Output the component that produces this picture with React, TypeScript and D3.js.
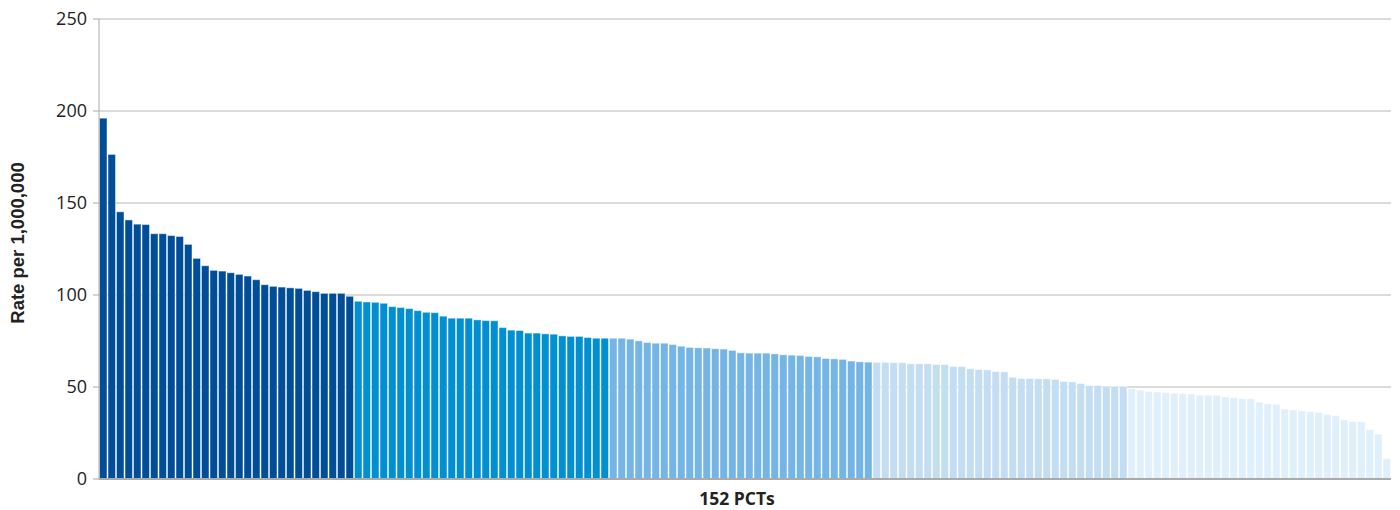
import React from 'react';
import * as d3 from 'd3';

// Rates per 1,000,000 for 152 PCTs, sorted descending, split into quintile groups
const group1 = [
  196.1, 176.4, 145.2, 140.8, 138.5, 138.3, 133.3, 133.3, 132.3, 131.8,
  127.5, 119.9, 115.9, 113.4, 113.0, 112.1, 111.2, 110.3, 108.3, 105.6,
  104.7, 104.3, 103.9, 103.6, 102.5, 101.8, 100.9, 100.9, 100.9, 99.3,
];
const group2 = [
  96.6, 96.2, 96.0, 95.5, 93.7, 93.2, 92.6, 91.5, 90.6, 90.4,
  88.5, 87.4, 87.4, 87.4, 86.5, 86.1, 86.0, 82.3, 80.9, 80.7,
  79.3, 79.3, 78.9, 78.7, 77.8, 77.5, 77.5, 76.9, 76.5, 76.5,
];
const group3 = [
  76.5, 76.5, 76.0, 75.1, 74.2, 73.8, 73.8, 73.1, 72.2, 71.5,
  71.3, 71.2, 70.8, 70.6, 69.9, 68.6, 68.4, 68.4, 68.4, 68.0,
  67.5, 67.3, 67.1, 66.6, 66.4, 65.5, 65.3, 65.0, 64.1, 63.7, 63.5,
];
const group4 = [
  63.4, 63.4, 63.2, 63.2, 62.6, 62.6, 62.6, 62.2, 62.2, 61.1,
  61.1, 59.9, 59.5, 59.3, 58.4, 58.2, 55.3, 54.6, 54.6, 54.4,
  54.4, 54.1, 53.0, 52.8, 51.9, 50.8, 50.8, 50.4, 50.3, 50.3,
];
const group5 = [
  49.1, 48.2, 47.6, 47.3, 47.0, 46.6, 46.4, 46.2, 45.6, 45.5,
  45.5, 44.6, 44.2, 43.6, 43.6, 41.8, 40.9, 40.5, 38.0, 37.6,
  37.1, 36.6, 36.2, 35.1, 34.5, 32.2, 31.3, 31.1, 26.9, 24.4, 11.0,
];
const groupColors = ['#004e98', '#0090d2', '#75b5e5', '#c3ddf3', '#dff0fc'];
const yTicks = [0, 50, 100, 150, 200, 250];
const xLabel = '152 PCTs';
const yLabel = 'Rate per 1,000,000';

const bars = [group1, group2, group3, group4, group5].flatMap((g, gi) =>
  g.map(v => ({ value: v, group: gi }))
).map((d, i) => ({ ...d, idx: i }));

export default function App() {
  const width = 1400;
  const height = 510;
  const margin = { top: 19, right: 9, bottom: 31, left: 99 };

  const x = d3
    .scaleBand<number>()
    .domain(bars.map(d => d.idx))
    .range([margin.left, width - margin.right])
    .padding(0);

  const y = d3
    .scaleLinear()
    .domain([0, 250])
    .range([height - margin.bottom, margin.top]);

  const font = '"Open Sans", "Noto Sans", sans-serif';
  const bw = x.bandwidth();

  return (
    <svg
      width={width}
      height={height}
      style={{ position: 'absolute', left: 0, top: 0, background: '#fff' }}
      fontFamily={font}
    >
      {/* Gridlines */}
      {yTicks.filter(t => t > 0).map(t => (
        <line
          key={t}
          x1={margin.left}
          x2={width - margin.right}
          y1={y(t)}
          y2={y(t)}
          stroke="#cfcfcf"
          strokeWidth={1.5}
        />
      ))}

      {/* Bars */}
      {bars.map(d => (
        <rect
          key={d.idx}
          x={(x(d.idx) as number) + 0.5}
          y={y(d.value)}
          width={bw - 1}
          height={y(0) - y(d.value)}
          fill={groupColors[d.group]}
          stroke="rgba(255,255,255,0.45)"
          strokeWidth={1}
        />
      ))}

      {/* Y axis */}
      <line
        x1={margin.left}
        x2={margin.left}
        y1={margin.top}
        y2={y(0)}
        stroke="#a8a8a8"
        strokeWidth={1}
      />
      {yTicks.map(t => (
        <g key={t} transform={`translate(0,${y(t)})`}>
          <line x1={margin.left - 6} x2={margin.left} stroke="#a8a8a8" />
          <text
            x={margin.left - 12}
            dy="0.35em"
            textAnchor="end"
            fontSize={18}
            fill="#222"
          >
            {t}
          </text>
        </g>
      ))}

      {/* Baseline */}
      <line
        x1={margin.left}
        x2={width - margin.right}
        y1={y(0)}
        y2={y(0)}
        stroke="#aaaaaa"
        strokeWidth={2}
      />

      {/* Axis labels */}
      <text
        x={737}
        y={505}
        textAnchor="middle"
        fontSize={17.5}
        fontWeight="bold"
        fill="#222"
      >
        {xLabel}
      </text>
      <text
        transform={`translate(24,243) rotate(-90)`}
        textAnchor="middle"
        fontSize={18.5}
        fontWeight="bold"
        fontFamily='"Liberation Sans", Arial, sans-serif'
        fill="#222"
      >
        {yLabel}
      </text>
    </svg>
  );
}
